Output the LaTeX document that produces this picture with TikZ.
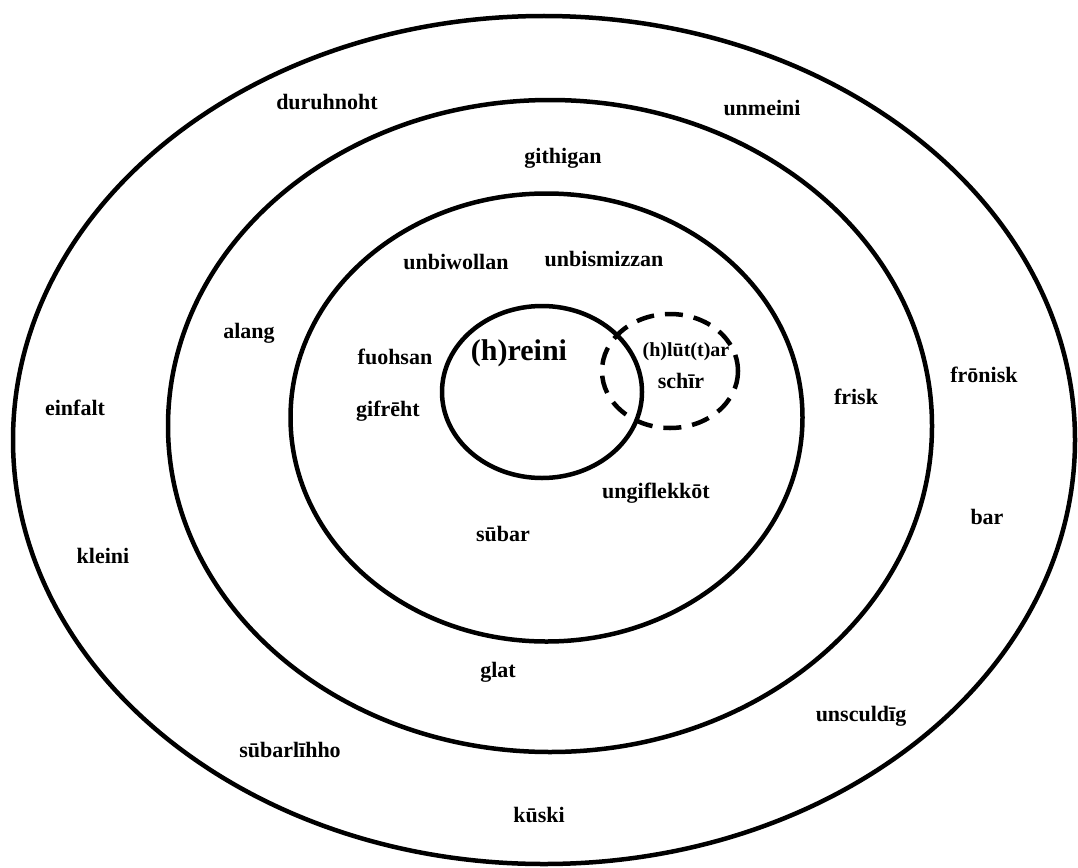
\documentclass[tikz,border=0pt]{standalone}
\usepackage{fontspec}
\setmainfont{Liberation Serif}[BoldFont={Liberation Serif Bold}]
\newfontfamily\tnrbold{Liberation Serif Bold}
\begin{document}
\begin{tikzpicture}[x=1pt,y=-1pt,
  ring/.style={draw=black,line width=4.5pt},
  dring/.style={draw=black,line width=4.5pt,dash pattern=on 18pt off 11pt},
  word/.style={font=\tnrbold\fontsize{22}{26}\selectfont,inner sep=0pt},
  bigword/.style={font=\tnrbold\fontsize{30}{34}\selectfont,inner sep=0pt},
  smallword/.style={font=\tnrbold\fontsize{20}{24}\selectfont,inner sep=0pt}]
\useasboundingbox (0,0) rectangle (1078,867);
\fill[white] (0,0) rectangle (1078,867);
\draw[ring] (544,440) ellipse [x radius=531, y radius=424];
\draw[ring] (550,426) ellipse [x radius=382, y radius=326];
\draw[ring] (546.5,417.5) ellipse [x radius=256, y radius=224];
\draw[ring] (542,392) ellipse [x radius=100, y radius=86];
\draw[dring] (670,371) ellipse [x radius=68, y radius=57];
\node[word] (duruhnoht) at (327,102) {duruhnoht};
\node[word] (unmeini) at (762,108) {unmeini};
\node[word] (githigan) at (563,158) {githigan};
\node[word] (unbiwollan) at (456,262) {unbiwollan};
\node[word] (unbismizzan) at (604,259) {unbismizzan};
\node[word] (alang) at (249,333) {alang};
\node[word] (fuohsan) at (395,357) {fuohsan};
\node[bigword] (hreini) at (519,353) {(h)reini};
\node[smallword] (hlutar) at (686,352) {(h)lūt(t)ar};
\node[word] (schir) at (681,381) {schīr};
\node[word] (gifreht) at (388,411) {gifrēht};
\node[word] (frisk) at (856,397) {frisk};
\node[word] (fronisk) at (984,375) {frōnisk};
\node[word] (einfalt) at (75,408) {einfalt};
\node[word] (bar) at (987,517) {bar};
\node[word] (ungiflekkot) at (656,493) {ungiflekkōt};
\node[word] (subar) at (503,534) {sūbar};
\node[word] (kleini) at (103,556) {kleini};
\node[word] (glat) at (498,672) {glat};
\node[word] (unsculdig) at (861,716) {unsculdīg};
\node[word] (subarlihho) at (290,750) {sūbarlīhho};
\node[word] (kuski) at (539,815) {kūski};
\end{tikzpicture}
\end{document}
